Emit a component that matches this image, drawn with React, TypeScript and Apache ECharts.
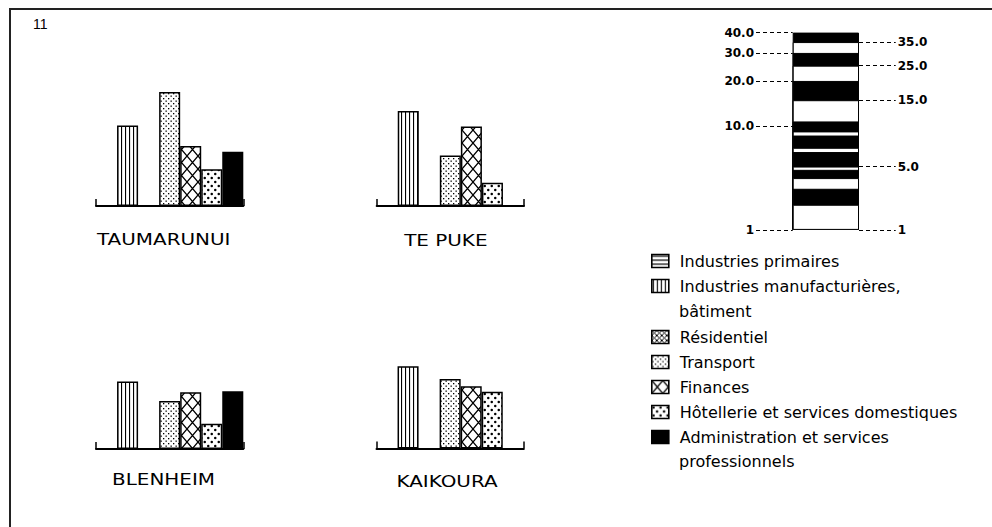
import React, { useEffect, useRef } from 'react';
import * as echarts from 'echarts';

// ---------- data ----------
const categories = [
  'Industries primaires',
  'Industries manufacturières, bâtiment',
  'Résidentiel',
  'Transport',
  'Finances',
  'Hôtellerie et services domestiques',
  'Administration et services professionnels',
];
const legendFirstLines = [
  'Industries primaires',
  'Industries manufacturières,',
  'Résidentiel',
  'Transport',
  'Finances',
  'Hôtellerie et services domestiques',
  'Administration et services',
];
const legendSecondLines = ['', 'bâtiment', '', '', '', '', 'professionnels'];
const towns = ['TAUMARUNUI', 'TE PUKE', 'BLENHEIM', 'KAIKOURA'];
const taumarunui = [null, 6.8, null, 11.8, 4.7, 2.9, 4.2];
const tePuke = [null, 8.7, null, 3.9, 6.7, 2.1, null];
const blenheim = [null, 5.4, null, 3.7, 4.4, 2.2, 4.5];
const kaikoura = [null, 7.0, null, 5.6, 4.9, 4.4, null];
const townValues = [taumarunui, tePuke, blenheim, kaikoura];

const scaleLeftTicks = [40, 30, 20, 10, 1];
const scaleRightTicks = [35, 25, 15, 5, 1];
const scaleBandTops = [40, 35, 30, 25, 20, 15, 10.8, 9.2, 8.6, 7.0, 6.5, 5.0, 4.7, 4.0, 3.2, 2.2];
const figureNumber = '11';

// scale definition: logarithmic axis of (value + shift)
const SCALE_MIN = 1;
const SCALE_MAX = 40;
const LOG_SHIFT = 2;

function makePattern(w: number, h: number, draw: (ctx: CanvasRenderingContext2D) => void) {
  const c = document.createElement('canvas');
  c.width = w;
  c.height = h;
  const ctx = c.getContext('2d')!;
  ctx.fillStyle = '#fff';
  ctx.fillRect(0, 0, w, h);
  ctx.fillStyle = '#000';
  ctx.strokeStyle = '#000';
  draw(ctx);
  return { image: c, repeat: 'repeat', imageWidth: w, imageHeight: h } as any;
}

export default function App() {
  const ref = useRef<HTMLDivElement>(null);
  useEffect(() => {
    const chart = echarts.init(ref.current!, null, { renderer: 'svg' });

    const patterns: any[] = [
      makePattern(4, 4, (ctx) => ctx.fillRect(0, 1, 4, 1.2)),
      makePattern(4, 4, (ctx) => ctx.fillRect(1, 0, 1.1, 4)),
      makePattern(5, 5, (ctx) => {
        ctx.lineWidth = 1;
        ctx.beginPath();
        ctx.moveTo(-5, -5); ctx.lineTo(10, 10);
        ctx.moveTo(10, -5); ctx.lineTo(-5, 10);
        ctx.stroke();
      }),
      makePattern(5, 5, (ctx) => {
        ctx.fillRect(0.5, 0.5, 1.3, 1.3);
        ctx.fillRect(3, 3, 1.3, 1.3);
      }),
      makePattern(11, 13, (ctx) => {
        ctx.lineWidth = 1.3;
        ctx.beginPath();
        ctx.moveTo(-11, -13); ctx.lineTo(22, 26);
        ctx.moveTo(22, -13); ctx.lineTo(-11, 26);
        ctx.stroke();
      }),
      makePattern(7, 8, (ctx) => {
        ctx.beginPath();
        ctx.arc(1.75, 2, 1.25, 0, Math.PI * 2);
        ctx.closePath();
        ctx.moveTo(6.5, 6);
        ctx.arc(5.25, 6, 1.25, 0, Math.PI * 2);
        ctx.fill();
      }),
      '#000',
    ];

    const grids = [
      { left: 96, top: 8.7, width: 147.3, height: 197.3 },
      { left: 376.7, top: 8.7, width: 147.3, height: 197.3 },
      { left: 96, top: 251.7, width: 147.3, height: 197.3 },
      { left: 376.5, top: 251.2, width: 147.3, height: 197.3 },
      { left: 756, top: 32.6, width: 139.7, height: 197.3 },
    ];
    const townLabelPos = [
      [163.7, 240],
      [445.8, 240.7],
      [163.5, 480],
      [447, 481.7],
    ];

    const xAxes: any[] = towns.map((t, i) => ({
      type: 'category',
      gridIndex: i,
      data: categories,
      boundaryGap: true,
      axisLine: { show: true, lineStyle: { color: '#000', width: 2 } },
      axisTick: {
        show: true,
        inside: true,
        length: 7,
        interval: (idx: number) => idx === 0,
        lineStyle: { color: '#000', width: 1.5 },
      },
      axisLabel: { show: false },
      splitLine: { show: false },
    }));
    xAxes.push({ type: 'value', gridIndex: 4, min: 0, max: 1, show: false });

    const yAxes: any[] = grids.map((g, i) => ({
      type: 'log',
      logBase: 10,
      gridIndex: i,
      min: SCALE_MIN + LOG_SHIFT,
      max: SCALE_MAX + LOG_SHIFT,
      startValue: SCALE_MIN + LOG_SHIFT,
      show: false,
    }));

    const series: any[] = [];
    townValues.forEach((vals, i) => {
      categories.forEach((cat, k) => {
        series.push({
          type: 'bar',
          name: cat,
          xAxisIndex: i,
          yAxisIndex: i,
          barCategoryGap: '0%',
          barGap: '-100%',
          clip: true,
          silent: true,
          itemStyle: { color: patterns[k], borderColor: '#000', borderWidth: 1.5 },
          data: vals.map((v, j) => (j === k && v != null ? v + LOG_SHIFT : null)),
        });
      });
    });

    const BAR_HALF = 66.3 / 2 / 139.7;
    const BAR_L = 0.5 - BAR_HALF;
    const BAR_R = 0.5 + BAR_HALF;
    const fmt = (v: number) => (v === 1 ? '1' : v.toFixed(1));

    scaleBandTops.forEach((top, i) => {
      const s: any = {
        type: 'bar',
        name: 'échelle',
        xAxisIndex: 4,
        yAxisIndex: 4,
        barWidth: 66.3,
        barGap: '-100%',
        clip: true,
        silent: true,
        itemStyle: { color: i % 2 === 0 ? '#000' : '#fff', borderColor: '#000', borderWidth: 1 },
        data: [[0.5, top + LOG_SHIFT]],
      };
      if (i === scaleBandTops.length - 1) {
        s.markLine = {
          silent: true,
          symbol: 'none',
          animation: false,
          lineStyle: { type: [4, 3], color: '#000', width: 1.2 },
          label: {
            show: true,
            fontFamily: 'DejaVu Sans',
            fontWeight: 'bold',
            fontSize: 12,
            color: '#000',
            distance: 2,
          },
          data: [
            ...scaleLeftTicks.map((v) => [
              { coord: [0, v + LOG_SHIFT], label: { position: 'start', formatter: fmt(v) } },
              { coord: [BAR_L, v + LOG_SHIFT] },
            ]),
            ...scaleRightTicks.map((v) => [
              { coord: [BAR_R, v + LOG_SHIFT], label: { position: 'end', formatter: fmt(v) } },
              { coord: [1, v + LOG_SHIFT] },
            ]),
          ],
        };
      }
      series.push(s);
    });

    const legendBase = {
      orient: 'vertical',
      left: 651,
      padding: 0,
      itemWidth: 17,
      itemHeight: 13,
      itemGap: 0,
      icon: 'rect',
      selectedMode: false,
      itemStyle: { borderColor: '#000', borderWidth: 1.6 },
      textStyle: {
        fontFamily: 'DejaVu Sans',
        fontSize: 16,
        lineHeight: 25,
        color: '#000',
        padding: [0, 0, 0, 6],
      },
      formatter: (name: string) => legendFirstLines[categories.indexOf(name)] ?? name,
    };

    const graphics: any[] = [
      {
        type: 'rect',
        silent: true,
        z: -1,
        shape: { x: 10, y: 9, width: 1000, height: 540 },
        style: { fill: 'transparent', stroke: '#222', lineWidth: 2 },
      },
      ...towns.map((t, i) => ({
        type: 'text',
        silent: true,
        x: townLabelPos[i][0],
        y: townLabelPos[i][1],
        scaleX: 1.33,
        style: {
          text: t,
          fontFamily: 'DejaVu Sans',
          fontSize: 15,
          fill: '#000',
          align: 'center',
          verticalAlign: 'middle',
        },
      })),
      {
        type: 'text',
        silent: true,
        x: 679,
        y: 311,
        style: { text: legendSecondLines[1], fontFamily: 'DejaVu Sans', fontSize: 16, fill: '#000', verticalAlign: 'middle' },
      },
      {
        type: 'text',
        silent: true,
        x: 679,
        y: 461,
        style: { text: legendSecondLines[6], fontFamily: 'DejaVu Sans', fontSize: 16, fill: '#000', verticalAlign: 'middle' },
      },
    ];

    chart.setOption({
      animation: false,
      backgroundColor: '#fff',
      title: {
        text: figureNumber,
        left: 28,
        top: 12,
        textStyle: { fontFamily: 'Liberation Sans', fontSize: 14, fontWeight: 'normal', color: '#000' },
      },
      graphic: graphics,
      grid: grids,
      xAxis: xAxes,
      yAxis: yAxes,
      legend: [
        { ...legendBase, top: 248.5, data: categories.slice(0, 2) },
        { ...legendBase, top: 324.5, data: categories.slice(2) },
      ],
      series,
    });

    return () => chart.dispose();
  }, []);
  return <div ref={ref} style={{ position: 'fixed', left: 0, top: 0, width: 992, height: 527 }} />;
}
